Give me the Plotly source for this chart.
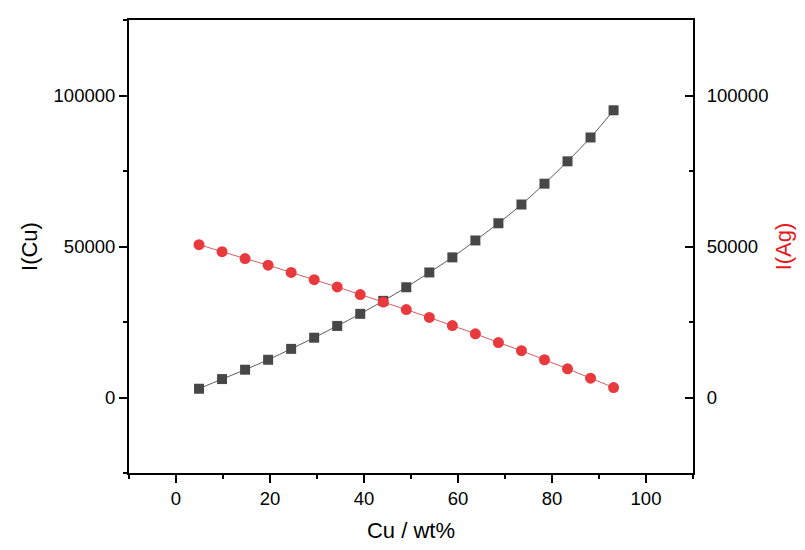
import plotly.graph_objects as go

# Cu content (wt%) and measured intensities
cu_wt = [4.9, 9.8, 14.7, 19.6, 24.5, 29.4, 34.3, 39.2, 44.1, 49.0,
         53.9, 58.8, 63.7, 68.6, 73.5, 78.4, 83.3, 88.2, 93.1]
i_cu = [2900, 6100, 9200, 12500, 16100, 19800, 23700, 27700, 32000, 36500,
        41400, 46400, 52000, 57700, 63900, 70800, 78200, 86100, 95100]
i_ag = [50600, 48300, 46000, 43800, 41400, 39000, 36600, 34100, 31600, 29100,
        26500, 23800, 21100, 18200, 15500, 12500, 9500, 6400, 3300]

font_name = "Liberation Sans, Arial, sans-serif"

cu_trace = go.Scatter(
	x=cu_wt, y=i_cu, mode="lines+markers", name="I(Cu)",
	line=dict(color="#333333", width=0.8, shape="spline"),
	marker=dict(symbol="square", size=10, color="#474747"),
	yaxis="y"
)
ag_trace = go.Scatter(
	x=cu_wt, y=i_ag, mode="lines+markers", name="I(Ag)",
	line=dict(color="#c8323a", width=0.8, shape="spline"),
	marker=dict(symbol="circle", size=11, color="#e8393d"),
	yaxis="y2"
)

fig = go.Figure(data=[cu_trace, ag_trace])

fig.update_layout(
	width=805, height=550,
	showlegend=False,
	plot_bgcolor="white", paper_bgcolor="white",
	margin=dict(l=129, r=112, t=20, b=77, autoexpand=False),
	font=dict(family=font_name, size=18.5, color="black"),
	xaxis=dict(
		range=[-10, 110], dtick=20, tick0=0,
		showline=True, linecolor="black", linewidth=2, mirror=True,
		ticks="outside", ticklen=8, tickwidth=2, tickcolor="black",
		minor=dict(dtick=10, ticks="outside", ticklen=4, tickwidth=2, tickcolor="black"),
		showgrid=False, zeroline=False, automargin=False,
		title=dict(text="Cu / wt%", font=dict(size=22), standoff=14)
	),
	yaxis=dict(
		range=[-25000, 125000], dtick=50000, tick0=0,
		showline=True, linecolor="black", linewidth=2,
		ticks="outside", ticklen=8, tickwidth=2, tickcolor="black",
		minor=dict(dtick=25000, ticks="outside", ticklen=4, tickwidth=2, tickcolor="black"),
		showgrid=False, zeroline=False, tickformat="d", automargin=False,
		title=dict(text="I(Cu)", font=dict(size=22), standoff=10)
	),
	yaxis2=dict(
		range=[-25000, 125000], dtick=50000, tick0=0,
		overlaying="y", side="right",
		showline=True, linecolor="black", linewidth=2,
		ticks="inside", ticklen=8, tickwidth=2, tickcolor="black",
		minor=dict(dtick=25000, ticks="inside", ticklen=4, tickwidth=2, tickcolor="black"),
		showgrid=False, zeroline=False, tickformat="d", automargin=False,
		ticklabelstandoff=8,
		title=dict(text="I(Ag)", font=dict(size=22, color="#e8191e"), standoff=8)
	)
)

# the page's default body margin would push the figure 8px right and down
fig.write_html("out.html", config={"displayModeBar": False},
               post_script="document.body.style.margin='0px';")
